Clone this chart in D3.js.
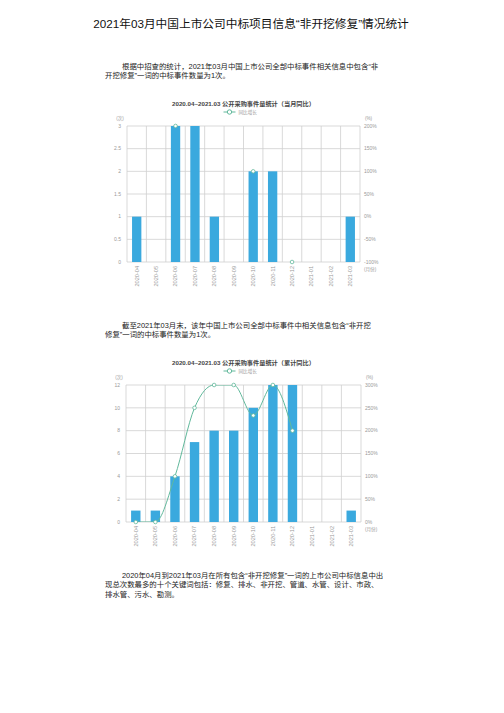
<!DOCTYPE html>
<html lang="zh">
<head>
<meta charset="UTF-8">
<title>非开挖修复情况统计</title>
<script src="https://d3js.org/d3.v7.min.js"></script>
<style>
    body { margin: 0; padding: 0; background: white; }
    svg { display: block; font-family: "Liberation Sans", "Noto Sans CJK SC", sans-serif; }
</style>
</head>
<body>
<div id="page"></div>
<script>
// data
const months = ['2020-04', '2020-05', '2020-06', '2020-07', '2020-08', '2020-09',
                '2020-10', '2020-11', '2020-12', '2021-01', '2021-02', '2021-03'];
const monthCounts = [1, 0, 3, 3, 1, 0, 2, 2, 0, 0, 0, 1];
const monthYoY = [null, null, 200, null, null, null, 100, null, -100, null, null, null];
const cumCounts = [1, 1, 4, 7, 8, 8, 10, 12, 12, 0, 0, 1];
const cumYoY = [0, 0, 100, 250, 300, 300, 233.3, 300, 200, null, null, null];
const leftTicks1 = [0, 0.5, 1, 1.5, 2, 2.5, 3];
const rightTicks1 = [-100, -50, 0, 50, 100, 150, 200];
const leftTicks2 = [0, 2, 4, 6, 8, 10, 12];
const rightTicks2 = [0, 50, 100, 150, 200, 250, 300];

const W = 504, H = 713;
const barColor = '#3aa9de';
const lineColor = '#62b99c';
const gridColor = '#cfcfcf';
const labelColor = '#9a9a9a';

const svg = d3.select('#page').append('svg').attr('width', W).attr('height', H);

// page text
svg.append('text').attr('x', 251).attr('y', 28).attr('text-anchor', 'middle')
    .attr('font-size', 11.7).attr('fill', '#111')
    .text('2021年03月中国上市公司中标项目信息“非开挖修复”情况统计');

function para(lines, y0) {
    lines.forEach((t, i) => {
        svg.append('text').attr('x', i === 0 ? 122 : 105).attr('y', y0 + i * 9.4)
            .attr('font-size', 7.4).attr('fill', '#222').text(t);
    });
}
para(['根据中招查的统计，2021年03月中国上市公司全部中标事件相关信息中包含“非',
      '开挖修复”一词的中标事件数量为1次。'], 69);
para(['截至2021年03月末，该年中国上市公司全部中标事件中相关信息包含“非开挖',
      '修复”一词的中标事件数量为1次。'], 328);
para(['2020年04月到2021年03月在所有包含“非开挖修复”一词的上市公司中标信息中出',
      '现总次数最多的十个关键词包括：修复、排水、非开挖、管道、水管、设计、市政、',
      '排水管、污水、勘测。'], 578);

function drawChart(opt) {
    const g = svg.append('g');
    const x = d3.scaleBand().domain(months).range([opt.left, opt.right]).padding(0);
    const yL = d3.scaleLinear().domain(opt.leftDomain).range([opt.bottom, opt.top]);
    const yR = d3.scaleLinear().domain(opt.rightDomain).range([opt.bottom, opt.top]);
    const mid = (opt.left + opt.right) / 2;

    g.append('text').attr('x', mid).attr('y', opt.top - 20).attr('text-anchor', 'middle')
        .attr('font-size', 6.2).attr('font-weight', 'bold').attr('fill', '#444').text(opt.title);

    // legend
    const lg = g.append('g').attr('transform', `translate(${mid - 20},${opt.top - 14})`);
    lg.append('line').attr('x1', 0).attr('x2', 12).attr('stroke', lineColor).attr('stroke-width', 1);
    lg.append('circle').attr('cx', 6).attr('r', 2.2).attr('fill', 'white').attr('stroke', lineColor);
    lg.append('text').attr('x', 15).attr('y', 1.7).attr('font-size', 4.6).attr('fill', labelColor).text('同比增长');

    // grid
    g.selectAll('.hg').data(opt.leftTicks).join('line')
        .attr('x1', opt.left).attr('x2', opt.right)
        .attr('y1', d => yL(d)).attr('y2', d => yL(d))
        .attr('stroke', gridColor).attr('stroke-width', 0.8);
    const vx = months.map(m => x(m)).concat([opt.right]);
    g.selectAll('.vg').data(vx).join('line')
        .attr('x1', d => d).attr('x2', d => d)
        .attr('y1', opt.top).attr('y2', opt.bottom)
        .attr('stroke', gridColor).attr('stroke-width', 0.8);

    // bars
    const bw = x.bandwidth() * 0.48;
    g.selectAll('.bar').data(months.map((m, i) => ({ m, v: opt.counts[i] }))).join('rect')
        .attr('x', d => x(d.m) + (x.bandwidth() - bw) / 2)
        .attr('y', d => yL(d.v))
        .attr('width', bw)
        .attr('height', d => opt.bottom - yL(d.v))
        .attr('fill', barColor);

    // line
    const pts = months.map((m, i) => ({ m, v: opt.yoy[i] }));
    const clipId = 'clip' + opt.top;
    g.append('clipPath').attr('id', clipId).append('rect')
        .attr('x', opt.left).attr('y', opt.top).attr('width', opt.right - opt.left).attr('height', opt.bottom - opt.top);
    const line = d3.line().defined(d => d.v !== null)
        .x(d => x(d.m) + x.bandwidth() / 2).y(d => yR(d.v))
        .curve(d3.curveMonotoneX);
    g.append('path').datum(pts).attr('d', line).attr('fill', 'none')
        .attr('stroke', lineColor).attr('stroke-width', 1).attr('clip-path', `url(#${clipId})`);
    g.selectAll('.pt').data(pts.filter(d => d.v !== null)).join('circle')
        .attr('cx', d => x(d.m) + x.bandwidth() / 2).attr('cy', d => yR(d.v))
        .attr('r', 1.8).attr('fill', 'white').attr('stroke', lineColor).attr('stroke-width', 0.8);

    // axes labels
    g.selectAll('.lt').data(opt.leftTicks).join('text')
        .attr('x', opt.left - 6).attr('y', d => yL(d) + 1.8).attr('text-anchor', 'end')
        .attr('font-size', 5).attr('fill', labelColor).text(d => d);
    g.selectAll('.rt').data(opt.rightTicks).join('text')
        .attr('x', opt.right + 4).attr('y', d => yR(d) + 1.8)
        .attr('font-size', 5).attr('fill', labelColor).text(d => d + '%');
    g.append('text').attr('x', opt.left - 7).attr('y', opt.top - 6).attr('text-anchor', 'middle')
        .attr('font-size', 4.6).attr('fill', labelColor).text('(次)');
    g.append('text').attr('x', opt.right + 5).attr('y', opt.top - 6)
        .attr('font-size', 4.6).attr('fill', labelColor).text('(%)');
    g.append('text').attr('x', opt.right + 4).attr('y', opt.bottom + 9)
        .attr('font-size', 4.6).attr('fill', labelColor).text('(月份)');
    g.selectAll('.xt').data(months).join('text')
        .attr('transform', d => `translate(${x(d) + x.bandwidth() / 2 + 1.9},${opt.bottom + 4}) rotate(-90)`)
        .attr('text-anchor', 'end').attr('font-size', 5.6).attr('fill', labelColor).text(d => d);
}

drawChart({
    title: '2020.04~2021.03 公开采购事件量统计（当月同比）',
    left: 127, right: 360, top: 126, bottom: 262,
    leftDomain: [0, 3], rightDomain: [-100, 200],
    leftTicks: leftTicks1, rightTicks: rightTicks1,
    counts: monthCounts, yoy: monthYoY
});
drawChart({
    title: '2020.04~2021.03 公开采购事件量统计（累计同比）',
    left: 126, right: 361, top: 385, bottom: 522,
    leftDomain: [0, 12], rightDomain: [0, 300],
    leftTicks: leftTicks2, rightTicks: rightTicks2,
    counts: cumCounts, yoy: cumYoY
});
</script>
</body>
</html>
